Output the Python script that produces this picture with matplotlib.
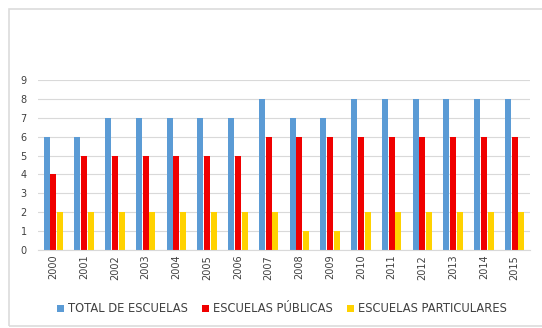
import numpy as np
import matplotlib.pyplot as plt
from matplotlib.patches import Rectangle

years = ['2000', '2001', '2002', '2003', '2004', '2005', '2006', '2007',
         '2008', '2009', '2010', '2011', '2012', '2013', '2014', '2015']
total = [6, 6, 7, 7, 7, 7, 7, 8, 7, 7, 8, 8, 8, 8, 8, 8]
publicas = [4, 5, 5, 5, 5, 5, 5, 6, 6, 6, 6, 6, 6, 6, 6, 6]
particulares = [2, 2, 2, 2, 2, 2, 2, 2, 1, 1, 2, 2, 2, 2, 2, 2]

names = ['TOTAL DE ESCUELAS', 'ESCUELAS PÚBLICAS', 'ESCUELAS PARTICULARES']
colors = ['#5B9BD5', '#F00000', '#FFD200']

fig = plt.figure(figsize=(5.42, 3.28), dpi=100)
# light outer frame of the chart
fig.patches.append(Rectangle((9 / 542, 2 / 328), 1.0, 317 / 328, transform=fig.transFigure,
                             fill=False, edgecolor='#DCDCDC', linewidth=1.2))
ax = fig.add_axes([38 / 542, 1 - 250 / 328, 492 / 542, 170 / 328])

x = np.arange(len(years))
w = 0.19
ax.bar(x - w * 1.15, total, w, color=colors[0], label=names[0])
ax.bar(x, publicas, w, color=colors[1], label=names[1])
ax.bar(x + w * 1.15, particulares, w, color=colors[2], label=names[2])

ax.set_ylim(0, 9)
ax.set_yticks(range(10))
ax.set_xlim(-0.5, len(years) - 0.5)
ax.set_xticks(x)
ax.set_xticklabels(years, rotation=90)
ax.tick_params(axis='both', length=0, labelsize=7, colors='#404040')
ax.tick_params(axis='y', pad=8)
ax.grid(axis='y', color='#D9D9D9', linewidth=0.8)
ax.set_axisbelow(True)
for s in ['top', 'right', 'left']:
    ax.spines[s].set_visible(False)
ax.spines['bottom'].set_color('#D9D9D9')

fig.legend(loc='center', bbox_to_anchor=(282 / 542, 1 - 309 / 328), ncol=3, frameon=False,
           fontsize=8.3, handlelength=0.6, handleheight=0.6, columnspacing=1.2,
           handletextpad=0.35, labelcolor='#404040')

fig.savefig('out.png', dpi=100)
